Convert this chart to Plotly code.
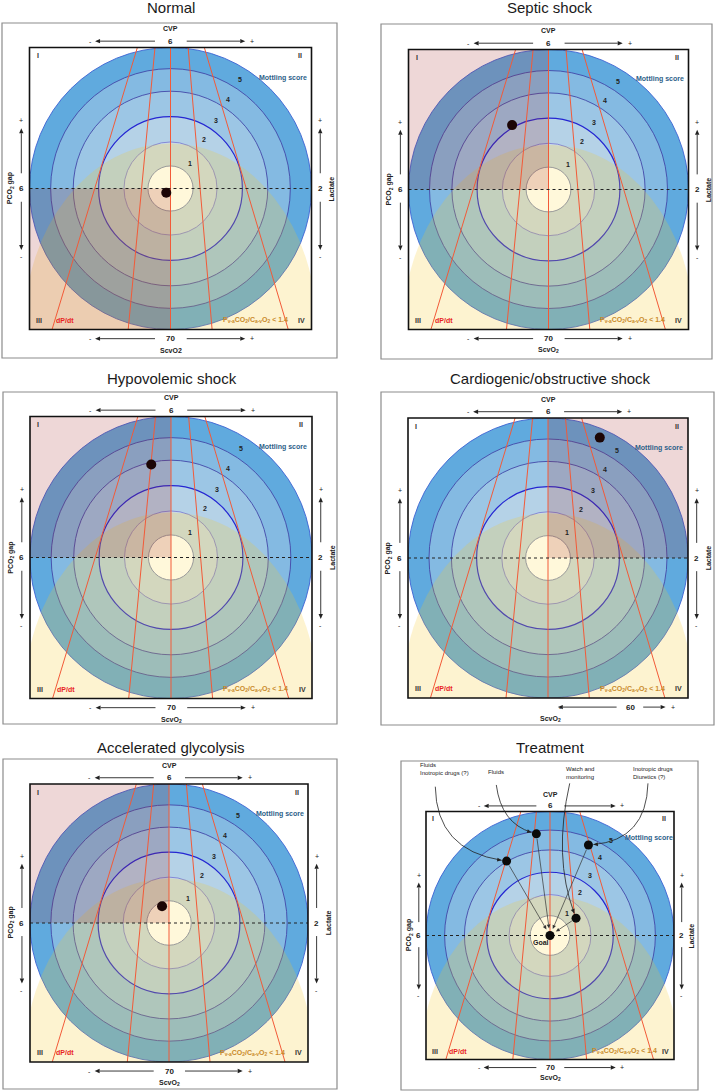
import numpy as np
import plotly.graph_objects as go

# ---------------- data ----------------
TITLES = ["Normal", "Septic shock", "Hypovolemic shock",
          "Cardiogenic/obstructive shock", "Accelerated glycolysis", "Treatment"]
HIGHLIGHT_QUADRANT = ["III", "I", "I", "II", "I", None]
PATIENT_X = [-0.03, -0.26, -0.14, 0.37, -0.05]
PATIENT_Y = [-0.03, 0.46, 0.66, 0.86, 0.12]
CVP_VALUE = ["6", "6", "6", "6", "6", "6"]
SCVO2_VALUE = ["70", "70", "70", "60", "70", "70"]
SCVO2_LABEL = ["ScvO2", "ScvO<sub>2</sub>", "ScvO<sub>2</sub>", "ScvO<sub>2</sub>",
               "ScvO<sub>2</sub>", "ScvO<sub>2</sub>"]
PCO2_GAP_VALUE = "6"
LACTATE_VALUE = "2"
MOTTLING_RADII = [1.0, 0.85, 0.69, 0.51, 0.33]
MOTTLING_LABELS = ["5", "4", "3", "2", "1"]
GOAL_RADIUS = 0.16
DPDT_TOP = [-0.235, -0.11, 0.0, 0.125, 0.24]
DPDT_BOTTOM = [-0.84, -0.30, 0.0, 0.295, 0.835]
QUADRANT_NAMES = ["I", "II", "III", "IV"]
TREAT_LABELS = ["Fluids<br>Inotropic drugs (?)", "Fluids", "Watch and<br>monitoring",
                "Inotropic drugs<br>Diuretics (?)"]
TREAT_X = [-0.35, -0.11, 0.21, 0.31]
TREAT_Y = [0.60, 0.82, 0.14, 0.73]

# ---------------- layout geometry (pixels) ----------------
W, H = 717, 1092
CENTER = [(170.5, 188.5), (548.5, 189.5), (171, 557.5), (548, 558), (169, 923), (550, 935.5)]
HALF = [141, 140, 141, 140, 139, 124]
BOX = [(2, 23, 337, 358), (381, 24, 712, 359), (3, 392, 337, 724),
       (381, 392, 714, 725), (3, 759, 337, 1089), (401, 761, 698, 1090)]
TITLE_POS = [(171, 8), (550, 8), (172, 378), (550, 378), (171, 747), (550, 747)]
TREAT_TEXT_PX = [(418, 769), (485.7, 772.3), (564, 773), (630.7, 773)]
TREAT_CURVE_START = [(-0.925, 1.20), (-0.433, 1.214), (0.159, 1.227), (0.79, 1.227)]
TREAT_CURVE_CTRL = [(-0.917, 0.69), (-0.393, 0.905), (0.024, 0.635), (0.777, 0.77)]

# ---------------- styles ----------------
FONT = "Liberation Sans, Arial, Helvetica, sans-serif"
RING_FILLS = ["#60AADE", "#84BAE2", "#9CC6E5", "#B5D2E7", "#CADCE8"]
RING_LINES = [("#3C62D2", 0.9), ("#4347A8", 0.9), ("#4347A8", 0.9), ("#2526D2", 1.2), ("#7374D2", 0.8)]
YELLOW = "rgba(245,200,40,0.22)"
PINK = "rgba(165,45,45,0.19)"
RED = "#F25A38"
DARK = "#222222"

fig = go.Figure()
shapes, annotations, axes = [], [], {}


def to_paper(px, py):
    return px / W, 1 - py / H


def upx(i, u, v):
    cx, cy = CENTER[i]
    hw = HALF[i]
    return cx + u * hw, cy - v * hw


def txt(i, u, v, text, size=7, color=DARK, angle=0, xanchor="center"):
    x, y = to_paper(*upx(i, u, v))
    annotations.append(dict(x=x, y=y, xref="paper", yref="paper", text=text, showarrow=False,
                            font=dict(size=size, color=color, family=FONT), textangle=angle,
                            xanchor=xanchor, yanchor="middle", borderpad=0))


def arrowhead_px(x1, y1, d, color=DARK, head_len=5.0, head_w=2.2):
    p = np.array([-d[1], d[0]])
    bx, by = x1 - d[0] * head_len, y1 - d[1] * head_len
    pts = [(x1, y1), (bx + p[0] * head_w, by + p[1] * head_w), (bx - p[0] * head_w, by - p[1] * head_w)]
    pp = [to_paper(*q) for q in pts]
    path = "M {},{} L {},{} L {},{} Z".format(*[c for q in pp for c in q])
    shapes.append(dict(type="path", xref="paper", yref="paper", path=path, fillcolor=color,
                       line=dict(width=0), layer="above"))


def arrow_px(x0, y0, x1, y1, width=0.9, color=DARK, head_len=5.0, head_w=2.2):
    d = np.array([x1 - x0, y1 - y0], dtype=float)
    d /= np.linalg.norm(d)
    bx, by = x1 - d[0] * head_len, y1 - d[1] * head_len
    a0, a1 = to_paper(x0, y0)
    b0, b1 = to_paper(bx, by)
    shapes.append(dict(type="line", xref="paper", yref="paper", x0=a0, y0=a1, x1=b0, y1=b1,
                       line=dict(color=color, width=width), layer="above"))
    arrowhead_px(x1, y1, d, color, head_len, head_w)


def arrow(i, uh, vh, ut, vt):
    hx, hy = upx(i, uh, vh)
    tx, ty = upx(i, ut, vt)
    arrow_px(tx, ty, hx, hy)


for i in range(6):
    n = i + 1
    xa = "x" if n == 1 else f"x{n}"
    ya = "y" if n == 1 else f"y{n}"
    cx, cy = CENTER[i]
    hw = HALF[i]
    axes["xaxis" if n == 1 else f"xaxis{n}"] = dict(
        domain=[(cx - hw) / W, (cx + hw) / W], range=[-1, 1], visible=False,
        fixedrange=True, anchor=ya, showgrid=False, zeroline=False)
    axes["yaxis" if n == 1 else f"yaxis{n}"] = dict(
        domain=[1 - (cy + hw) / H, 1 - (cy - hw) / H], range=[-1, 1], visible=False,
        fixedrange=True, anchor=xa, showgrid=False, zeroline=False)

    bx0, by0, bx1, by1 = BOX[i]
    shapes.append(dict(type="rect", xref="paper", yref="paper", x0=bx0 / W, x1=bx1 / W,
                       y0=1 - by1 / H, y1=1 - by0 / H, line=dict(color="#8c8c8c", width=1.2),
                       fillcolor="white", layer="below"))

    for r, fc, (lc, lw) in zip(MOTTLING_RADII, RING_FILLS, RING_LINES):
        shapes.append(dict(type="circle", xref=xa, yref=ya, x0=-r, x1=r, y0=-r, y1=r,
                           fillcolor=fc, line=dict(color=lc, width=lw), layer="below"))
    shapes.append(dict(type="circle", xref=xa, yref=ya, x0=-1.04, x1=1.04, y0=-2.32, y1=0.32,
                       fillcolor=YELLOW, line=dict(width=0), layer="below"))
    shapes.append(dict(type="circle", xref=xa, yref=ya, x0=-GOAL_RADIUS, x1=GOAL_RADIUS,
                       y0=-GOAL_RADIUS, y1=GOAL_RADIUS, fillcolor="#FFF8DA",
                       line=dict(color="#9a9a9a", width=1), layer="below"))
    q = HIGHLIGHT_QUADRANT[i]
    if q:
        qx = {"I": (-1, 0, 0, 1), "II": (0, 1, 0, 1), "III": (-1, 0, -1, 0), "IV": (0, 1, -1, 0)}[q]
        shapes.append(dict(type="rect", xref=xa, yref=ya, x0=qx[0], x1=qx[1], y0=qx[2], y1=qx[3],
                           fillcolor=PINK, line=dict(width=0), layer="below"))
    for t, b in zip(DPDT_TOP, DPDT_BOTTOM):
        shapes.append(dict(type="line", xref=xa, yref=ya, x0=t, y0=1, x1=b, y1=-1,
                           line=dict(color=RED, width=1), layer="below"))
    shapes.append(dict(type="line", xref=xa, yref=ya, x0=-1, x1=1, y0=0, y1=0,
                       line=dict(color=DARK, width=1, dash="dot"), layer="below"))
    shapes.append(dict(type="rect", xref=f"{xa} domain", yref=f"{ya} domain", x0=0, x1=1, y0=0, y1=1,
                       line=dict(color="#111111", width=1.6), layer="above"))

    tx, ty = TITLE_POS[i]
    annotations.append(dict(x=tx / W, y=1 - ty / H, xref="paper", yref="paper", text=TITLES[i],
                            showarrow=False, font=dict(size=15, color="#1a1a1a", family=FONT),
                            xanchor="center", yanchor="middle"))

    txt(i, 0, 1.135, "<b>CVP</b>", 7)
    txt(i, 0, 1.045, "<b>" + CVP_VALUE[i] + "</b>", 8)
    arrow(i, -0.535, 1.045, -0.11, 1.045)
    arrow(i, 0.53, 1.045, 0.115, 1.045)
    txt(i, -0.57, 1.045, "-", 7)
    txt(i, 0.58, 1.045, "+", 7)

    if SCVO2_VALUE[i] == "70":
        txt(i, 0, -1.065, "<b>" + SCVO2_VALUE[i] + "</b>", 8)
        arrow(i, -0.535, -1.065, -0.11, -1.065)
        arrow(i, 0.53, -1.065, 0.115, -1.065)
        txt(i, -0.57, -1.065, "-", 7)
        txt(i, 0.58, -1.065, "+", 7)
        txt(i, 0, -1.15, "<b>" + SCVO2_LABEL[i] + "</b>", 7)
    else:
        txt(i, 0.59, -1.065, "<b>" + SCVO2_VALUE[i] + "</b>", 8)
        arrow(i, 0.07, -1.065, 0.49, -1.065)
        arrow(i, 0.84, -1.065, 0.68, -1.065)
        txt(i, 0.086, -1.065, "-", 7)
        txt(i, 0.89, -1.065, "+", 7)
        txt(i, 0.02, -1.15, "<b>" + SCVO2_LABEL[i] + "</b>", 7)

    for value, label, ut, uv in [(PCO2_GAP_VALUE, "PCO<sub>2</sub> gap", -1.14, -1.058),
                                 (LACTATE_VALUE, "Lactate", 1.145, 1.062)]:
        txt(i, ut, 0, "<b>" + label + "</b>", 7, angle=-90)
        txt(i, uv, 0, "<b>" + value + "</b>", 8)
        arrow(i, uv, 0.427, uv, 0.108)
        arrow(i, uv, -0.436, uv, -0.094)
        txt(i, uv, 0.48, "+", 7)
        txt(i, uv, -0.485, "-", 7)

    for name, (u, v) in zip(QUADRANT_NAMES, [(-0.94, 0.94), (0.92, 0.94), (-0.93, -0.933), (0.93, -0.933)]):
        txt(i, u, v, "<b>" + name + "</b>", 7, "#333333")
    txt(i, -0.745, -0.933, "<b>dP/dt</b>", 7, "#E8231E")
    txt(i, 0.60, -0.933, "<b>P<sub>v-a</sub>CO<sub>2</sub>/C<sub>a-v</sub>O<sub>2</sub> &lt; 1.4</b>",
        7, "#C98A2B")
    txt(i, 0.795, 0.786, "<b>Mottling score</b>", 7, "#2D5E88")
    for lab, (u, v) in zip(MOTTLING_LABELS, [(0.493, 0.77), (0.405, 0.633), (0.323, 0.481),
                                            (0.238, 0.344), (0.138, 0.179)]):
        txt(i, u, v, "<b>" + lab + "</b>", 7)

    if i < 5:
        fig.add_trace(go.Scatter(x=[PATIENT_X[i]], y=[PATIENT_Y[i]], xaxis=xa, yaxis=ya,
                                 mode="markers", marker=dict(size=10, color="#1c0606"),
                                 hoverinfo="skip", cliponaxis=False))
    else:
        fig.add_trace(go.Scatter(x=TREAT_X + [0], y=TREAT_Y + [0], xaxis=xa, yaxis=ya,
                                 mode="markers", marker=dict(size=9, color="#0a0a0a"),
                                 hoverinfo="skip", cliponaxis=False))
        txt(i, -0.075, -0.06, "<b>Goal</b>", 7)
        gx, gy = upx(i, 0, 0)
        for k in range(4):
            dx_, dy_ = upx(i, TREAT_X[k], TREAT_Y[k])
            d = np.array([gx - dx_, gy - dy_])
            d /= np.linalg.norm(d)
            arrow_px(dx_ + d[0] * 5, dy_ + d[1] * 5, gx - d[0] * 7, gy - d[1] * 7,
                     width=0.7, color="#333333", head_len=4.0, head_w=1.8)
            lx, ly = TREAT_TEXT_PX[k]
            annotations.append(dict(x=lx / W, y=1 - ly / H, xref="paper", yref="paper",
                                    text=TREAT_LABELS[k], showarrow=False, xanchor="left",
                                    yanchor="middle", align="left",
                                    font=dict(size=6, color=DARK, family=FONT)))
            sx, sy = upx(i, *TREAT_CURVE_START[k])
            cpx, cpy = upx(i, *TREAT_CURVE_CTRL[k])
            e = np.array([cpx - dx_, cpy - dy_])
            e /= np.linalg.norm(e)
            endx, endy = dx_ + e[0] * 5, dy_ + e[1] * 5
            s0, s1 = to_paper(sx, sy)
            c0, c1 = to_paper(cpx, cpy)
            e0, e1 = to_paper(endx, endy)
            shapes.append(dict(type="path", xref="paper", yref="paper",
                               path=f"M {s0},{s1} Q {c0},{c1} {e0},{e1}",
                               line=dict(color=DARK, width=0.8), layer="above"))
            arrowhead_px(endx, endy, -e, DARK, 4.5, 2.0)

fig.update_layout(width=W, height=H, margin=dict(l=0, r=0, t=0, b=0),
                  paper_bgcolor="white", plot_bgcolor="rgba(0,0,0,0)", showlegend=False,
                  shapes=shapes, annotations=annotations, **axes)
fig.write_html("out.html", config={"displayModeBar": False},
               post_script="document.body.style.margin='0';document.body.style.padding='0';")
